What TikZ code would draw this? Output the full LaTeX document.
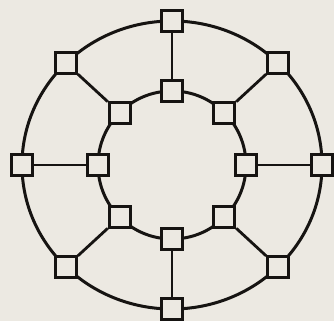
\documentclass[tikz,border=0pt]{standalone}
\usepackage{xcolor}
\usepackage{tikz}
\usetikzlibrary{positioning}
\definecolor{paper}{HTML}{ECE9E2}
\definecolor{ink}{HTML}{161412}

\begin{document}
\begin{tikzpicture}[
    x=1pt,y=1pt,
    station/.style={draw=ink,fill=paper,line width=2.8pt,minimum size=21pt,inner sep=0pt},
    ring/.style={draw=ink,line width=3pt},
    link/.style={draw=ink,line width=2.8pt}
]
    \fill[paper] (-172,-156) rectangle (162,165);
    \useasboundingbox (-172,-156) rectangle (162,165);

    % the two loops
    \draw[ring] (0,0) ellipse [x radius=150, y radius=144];
    \draw[ring] (0,0) circle [radius=74];

    % stations on both loops
    \foreach \k in {1,...,8} {
        \node[station] (out\k) at ({45*(\k-1)}:150 and 144) {};
        \node[station] (in\k) at ({45*(\k-1)}:74) {};
    }

    % spokes
    \foreach \k in {1,...,8}
        \draw[link] (out\k) -- (in\k);
\end{tikzpicture}
\end{document}
